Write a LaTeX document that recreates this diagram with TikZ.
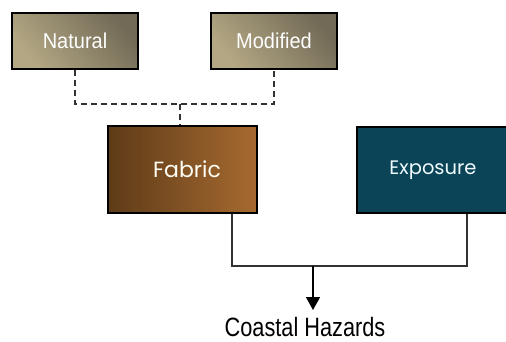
\documentclass[tikz,border=0pt]{standalone}
\usepackage{fontspec}
\setmainfont{Liberation Sans}
\newfontfamily\boxfont{Poppins}
\usetikzlibrary{arrows.meta,calc}
\definecolor{natdark}{RGB}{114,106,86}
\definecolor{natlight}{RGB}{180,168,132}
\definecolor{fabdark}{RGB}{94,59,24}
\definecolor{fablight}{RGB}{166,106,48}
\definecolor{expcol}{RGB}{10,68,86}
\definecolor{linecol}{RGB}{50,50,50}
\tikzset{
  tanbox/.style={draw=black, line width=1.6pt, minimum width=126pt, minimum height=56pt,
    top color=natdark, bottom color=natlight, shading angle=-50, text=white, inner sep=0pt,
    font=\fontsize{21.5}{21.5}\selectfont},
  fabbox/.style={draw=black, line width=1.6pt, minimum width=149pt, minimum height=87pt,
    left color=fabdark, right color=fablight, text=white!96!yellow, inner sep=0pt,
    font=\boxfont\fontsize{22}{22}\selectfont},
  expbox/.style={draw=black, line width=1.6pt, minimum width=152pt, minimum height=86pt,
    fill=expcol, text=white!94!cyan, inner sep=0pt,
    font=\boxfont\fontsize{19.5}{19.5}\selectfont},
  dashconn/.style={draw=linecol, line width=1.4pt, dash pattern=on 6pt off 4pt},
  conn/.style={draw=linecol, line width=1.4pt},
  arr/.style={draw=black, line width=1.4pt, -{Triangle[width=14pt,length=13pt]}},
  label/.style={inner sep=0pt, font=\fontsize{26.5}{26.5}\selectfont}
}
\begin{document}
\begin{tikzpicture}[x=1pt,y=-1pt]
\useasboundingbox (0,0) rectangle (506,341);
\node[tanbox] (nat) at (75,41) {\scalebox{0.93}[1]{Natural}};
\node[tanbox] (mod) at (274,41) {\scalebox{0.93}[1]{Modified}};
\node[fabbox] (fab) at (182.5,169.5) {\hspace*{9pt}Fabric};
\node[expbox] (exp) at (433,170) {Exposure};
\node[label] (haz) at (305,327) {\scalebox{0.82}[1]{Coastal Hazards}};
\coordinate (m) at (180,104);
\coordinate (j) at (313,266);
\coordinate (t) at (313,310);
\draw[dashconn] (nat.south) |- (mod.south |- m) -- (mod.south);
\draw[dashconn] (m) -- (m |- fab.north);
\draw[conn] ([xshift=-26pt]fab.south east) |- (j) -| ([xshift=34pt]exp.south);
\draw[arr] (j) -- (t);
\end{tikzpicture}
\end{document}
